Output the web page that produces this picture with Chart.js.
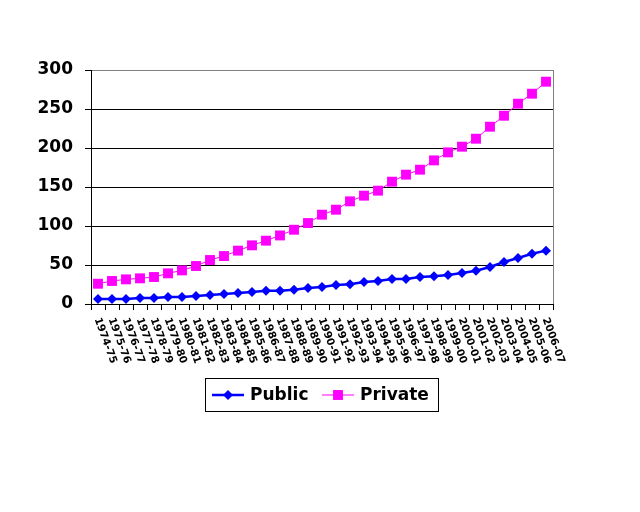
<!DOCTYPE html>
<html>
<head>
<meta charset="utf-8">
<script src="https://cdn.jsdelivr.net/npm/chart.js@4.4.0/dist/chart.umd.min.js"></script>
<style>
  body { margin: 0; background: #fff; }
  canvas { display: block; }
</style>
</head>
<body>
<canvas id="chart" width="640" height="512"></canvas>
<script>
// Chart data
const years = [
    '1974-75', '1975-76', '1976-77', '1977-78', '1978-79', '1979-80', '1980-81',
    '1981-82', '1982-83', '1983-84', '1984-85', '1985-86', '1986-87', '1987-88',
    '1988-89', '1989-90', '1990-91', '1991-92', '1992-93', '1993-94', '1994-95',
    '1995-96', '1996-97', '1997-98', '1998-99', '1999-00', '2000-01', '2001-02',
    '2002-03', '2003-04', '2004-05', '2005-06', '2006-07'
];
const publicValues = [
    6.4, 6.4, 6.4, 7.7, 7.7, 9.0, 9.0, 10.3, 11.6, 12.9, 14.2, 15.5, 17.1, 17.1,
    18.4, 20.5, 21.8, 24.4, 25.2, 28.2, 29.5, 32.1, 32.1, 34.6, 35.5, 37.2, 39.7,
    42.7, 47.4, 53.8, 59.0, 64.5, 68.4
];
const privateValues = [
    26.0, 29.5, 31.6, 32.9, 34.6, 39.3, 43.1, 48.7, 56.4, 61.5, 68.4, 75.2, 81.2,
    87.9, 95.2, 103.8, 114.5, 120.9, 131.6, 138.9, 145.3, 156.8, 165.8, 172.2,
    184.1, 194.4, 201.7, 211.9, 227.3, 241.4, 256.8, 269.6, 285.0
];
const yTicks = [0, 50, 100, 150, 200, 250, 300];

const FONT = '"DejaVu Sans", "Liberation Sans", Arial, sans-serif';

// rotated year labels + right border + boxed legend
const excelBits = {
    id: 'excelBits',
    afterDraw(chart) {
        const ctx = chart.ctx;
        const area = chart.chartArea;
        const xScale = chart.scales.x;

        ctx.save();
        ctx.strokeStyle = '#808080';
        ctx.lineWidth = 1;
        ctx.beginPath();
        ctx.moveTo(Math.round(area.right) + 0.5, area.top);
        ctx.lineTo(Math.round(area.right) + 0.5, area.bottom);
        ctx.stroke();

        ctx.fillStyle = '#000';
        ctx.font = 'bold 10.5px ' + FONT;
        ctx.textAlign = 'left';
        ctx.textBaseline = 'middle';
        chart.data.labels.forEach((label, i) => {
            const x = xScale.getPixelForValue(i);
            ctx.save();
            ctx.translate(x - 1, area.bottom + 14);
            ctx.rotate(70 * Math.PI / 180);
            ctx.fillText(label, 0, 0);
            ctx.restore();
        });

        // legend
        const box = { x: 205, y: 378, w: 233, h: 33 };
        ctx.strokeStyle = '#000';
        ctx.lineWidth = 1;
        ctx.strokeRect(box.x + 0.5, box.y + 0.5, box.w, box.h);
        const cy = box.y + box.h / 2 + 0.5;
        const items = [
            { ds: chart.data.datasets[0], x: 212 },
            { ds: chart.data.datasets[1], x: 322 }
        ];
        items.forEach(item => {
            const ds = item.ds;
            const cx = item.x + 16;
            ctx.strokeStyle = ds.borderColor;
            ctx.lineWidth = ds.borderWidth;
            ctx.beginPath();
            ctx.moveTo(item.x, cy);
            ctx.lineTo(item.x + 32, cy);
            ctx.stroke();
            ctx.fillStyle = ds.pointBackgroundColor;
            ctx.beginPath();
            if (ds.pointStyle === 'rectRot') {
                const r = ds.pointRadius;
                ctx.moveTo(cx, cy - r);
                ctx.lineTo(cx + r, cy);
                ctx.lineTo(cx, cy + r);
                ctx.lineTo(cx - r, cy);
                ctx.closePath();
            } else {
                const s = ds.pointRadius * Math.SQRT1_2;
                ctx.rect(cx - s, cy - s, 2 * s, 2 * s);
            }
            ctx.fill();
            ctx.fillStyle = '#000';
            ctx.font = 'bold 17px ' + FONT;
            ctx.textBaseline = 'middle';
            ctx.fillText(ds.label, item.x + 38, cy + 1);
        });
        ctx.restore();
    }
};

new Chart(document.getElementById('chart').getContext('2d'), {
    type: 'line',
    data: {
        labels: years,
        datasets: [{
            label: 'Public',
            data: publicValues,
            borderColor: '#0000ff',
            borderWidth: 2.5,
            pointStyle: 'rectRot',
            pointRadius: 5,
            pointBackgroundColor: '#0000ff',
            pointBorderWidth: 0,
            tension: 0
        }, {
            label: 'Private',
            data: privateValues,
            borderColor: '#ff00ff',
            borderWidth: 1,
            pointStyle: 'rect',
            pointRadius: 7,
            pointBackgroundColor: '#ff00ff',
            pointBorderWidth: 0,
            tension: 0
        }]
    },
    options: {
        responsive: false,
        animation: false,
        devicePixelRatio: 1,
        layout: { padding: { top: 70, right: 87, bottom: 0, left: 0 } },
        plugins: { legend: { display: false }, tooltip: { enabled: false } },
        scales: {
            x: {
                offset: true,
                grid: {
                    offset: true,
                    drawOnChartArea: false,
                    drawTicks: true,
                    tickLength: 6,
                    tickColor: '#000'
                },
                border: { display: true, color: '#000', width: 1 },
                ticks: { display: false },
                afterFit(scale) { scale.height = 208; }
            },
            y: {
                min: 0,
                max: 300,
                afterBuildTicks(scale) { scale.ticks = yTicks.map(v => ({ value: v })); },
                grid: {
                    color: ctx => ctx.tick && ctx.tick.value === 300 ? '#808080' : '#000',
                    tickColor: '#000',
                    tickLength: 6,
                    lineWidth: 1
                },
                border: { display: true, color: '#000', width: 1 },
                ticks: {
                    color: '#000',
                    padding: 12,
                    font: { family: FONT, size: 17, weight: 'bold' }
                },
                afterFit(scale) { scale.width = 91; }
            }
        }
    },
    plugins: [excelBits]
});
</script>
</body>
</html>
